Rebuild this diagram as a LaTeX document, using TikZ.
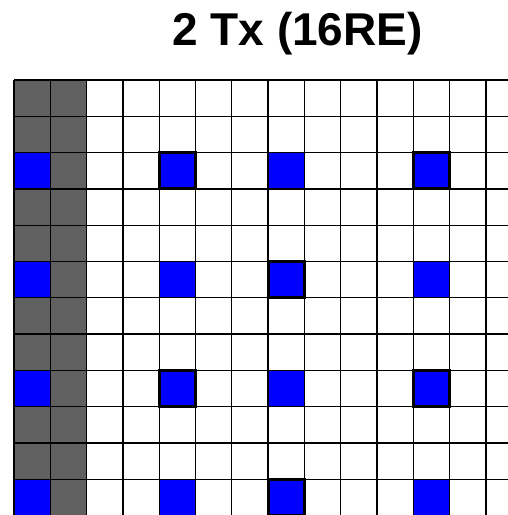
\documentclass[tikz,border=0pt]{standalone}
\usepackage{fontspec}
\setmainfont{Liberation Sans}
\definecolor{myblue}{HTML}{0000FF}
\definecolor{mygray}{HTML}{606060}
\usetikzlibrary{positioning}
\tikzset{
	gridline/.style={
			draw=black,
			line width=1.3pt
		},
	ctrlcell/.style={
			fill=mygray
		},
	refcell/.style={
			fill=myblue
		},
	markcell/.style={
			draw=black,
			line width=3pt
		},
	titlenode/.style={
			font=\bfseries\fontsize{46}{50}\selectfont,
			anchor=base,
			inner sep=0pt
		}
}

\begin{document}
\begin{tikzpicture}[x=1pt,y=-1pt]
\useasboundingbox (0,0) rectangle (508,515);
\node[titlenode] (title) at (297.5,45) {2 Tx (16RE)};

\begin{scope}
\clip (0,0) rectangle (508,515);
% control region
\foreach \r in {0,...,11}
	\foreach \c in {0,1}
		\fill[ctrlcell] ({14+36.3*\c},{80+36.3*\r}) rectangle ++(36.3,36.3);
% reference signals
\foreach \r in {2,5,8,11}
	\foreach \c in {0,4,7,11}
		\fill[refcell] ({14+36.3*\c},{80+36.3*\r}) rectangle ++(36.3,36.3);
% grid
\foreach \c in {0,...,14}
	\draw[gridline] ({14+36.3*\c},80) -- ++(0,{36.3*12});
\foreach \r in {0,...,12}
	\draw[gridline] (14,{80+36.3*\r}) -- ++({36.3*14},0);
% marked cells
\foreach \r/\c in {2/4,2/11,5/7,8/4,8/11,11/7}
	\draw[markcell] ({14+36.3*\c},{80+36.3*\r}) rectangle ++(36.3,36.3);
\end{scope}
\end{tikzpicture}
\end{document}
